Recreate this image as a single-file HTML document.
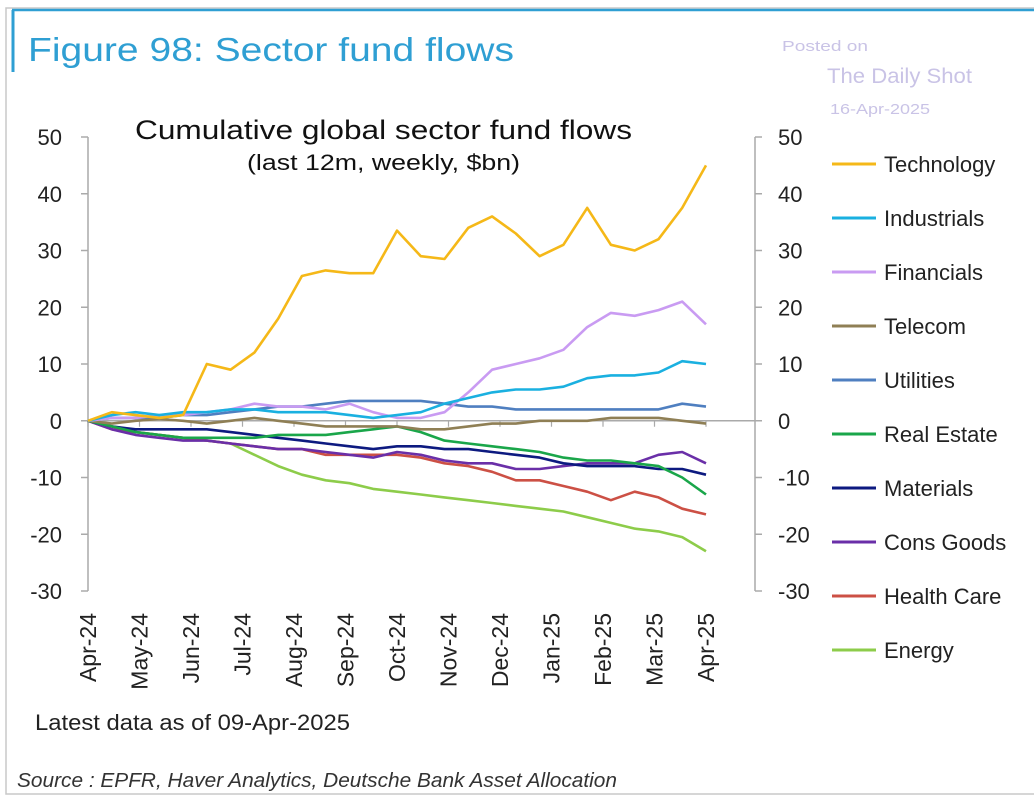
<!DOCTYPE html>
<html><head><meta charset="utf-8"><style>
body{margin:0;background:#fff;width:1034px;height:805px;overflow:hidden;font-family:"Liberation Sans",Arial,sans-serif}
svg{position:absolute;left:0;top:0}
</style></head><body>
<svg width="1034" height="805" xmlns="http://www.w3.org/2000/svg">
<rect x="6" y="8" width="1040" height="786" fill="#fff" stroke="#c8c8c8" stroke-width="1.5"/>
<line x1="12" y1="10" x2="1034" y2="10" stroke="#2f9fd3" stroke-width="2.5"/>
<line x1="13" y1="10" x2="13" y2="72" stroke="#2f9fd3" stroke-width="3"/>
<text x="28" y="61" font-size="33" fill="#2f9fd3" textLength="486" lengthAdjust="spacingAndGlyphs">Figure 98: Sector fund flows</text>
<text x="782" y="51" font-size="15" fill="#c9c3e6" textLength="86" lengthAdjust="spacingAndGlyphs">Posted on</text>
<text x="827" y="83" font-size="21" fill="#c9c3e6" textLength="145" lengthAdjust="spacingAndGlyphs">The Daily Shot</text>
<text x="830" y="114" font-size="15" fill="#c9c3e6" textLength="100" lengthAdjust="spacingAndGlyphs">16-Apr-2025</text>
<text x="135" y="139" font-size="27" fill="#111" textLength="497" lengthAdjust="spacingAndGlyphs">Cumulative global sector fund flows</text>
<text x="247" y="170" font-size="22" fill="#111" textLength="273" lengthAdjust="spacingAndGlyphs">(last 12m, weekly, $bn)</text>
<g id="axes"></g>
<g id="series"></g>
<g id="legend"></g>
<text x="35" y="730" font-size="22" fill="#222" textLength="315" lengthAdjust="spacingAndGlyphs">Latest data as of 09-Apr-2025</text>
<text x="17" y="787" font-size="20" fill="#333" font-style="italic" textLength="600" lengthAdjust="spacingAndGlyphs">Source : EPFR, Haver Analytics, Deutsche Bank Asset Allocation</text>
</svg>
<script>
const months=["Apr-24","May-24","Jun-24","Jul-24","Aug-24","Sep-24","Oct-24","Nov-24","Dec-24","Jan-25","Feb-25","Mar-25","Apr-25"];
const yTicks=[50,40,30,20,10,0,-10,-20,-30];
const seriesNames=["Technology","Industrials","Financials","Telecom","Utilities","Real Estate","Materials","Cons Goods","Health Care","Energy"];
const seriesColors=["#f5b818","#1ab0e0","#c99bf2","#8f7f55","#4f7fc0","#1aa64a","#0d1a80","#6a2fa8","#cc5045","#8dcc4a"];
const technology=[0,1.5,1,0.5,1,10,9,12,18,25.5,26.5,26,26,33.5,29,28.5,34,36,33,29,31,37.5,31,30,32,37.5,45];
const industrials=[0,1,1.5,1,1.5,1.5,2,2,1.5,1.5,1.5,1,0.5,1,1.5,3,4,5,5.5,5.5,6,7.5,8,8,8.5,10.5,10];
const financials=[0,0.5,0.5,1,1,1.5,2,3,2.5,2.5,2,3,1.5,0.5,0.5,1.5,5,9,10,11,12.5,16.5,19,18.5,19.5,21,17];
const telecom=[0,-0.5,0,0.3,0,-0.5,0,0.5,0,-0.5,-1,-1,-1,-1,-1.5,-1.5,-1,-0.5,-0.5,0,0,0,0.5,0.5,0.5,0,-0.5];
const utilities=[0,0.5,0.5,0.5,1,1,1.5,2,2.5,2.5,3,3.5,3.5,3.5,3.5,3,2.5,2.5,2,2,2,2,2,2,2,3,2.5];
const realEstate=[0,-1,-2,-2.5,-3,-3,-3,-3,-2.5,-2.5,-2.5,-2,-1.5,-1,-2,-3.5,-4,-4.5,-5,-5.5,-6.5,-7,-7,-7.5,-8,-10,-13];
const materials=[0,-1,-1.5,-1.5,-1.5,-1.5,-2,-2.5,-3,-3.5,-4,-4.5,-5,-4.5,-4.5,-5,-5,-5.5,-6,-6.5,-7.5,-8,-8,-8,-8.5,-8.5,-9.5];
const consGoods=[0,-1.5,-2.5,-3,-3.5,-3.5,-4,-4.5,-5,-5,-5.5,-6,-6.5,-5.5,-6,-7,-7.5,-7.5,-8.5,-8.5,-8,-7.5,-7.5,-7.5,-6,-5.5,-7.5];
const healthCare=[0,-1.5,-2,-2.5,-3,-3.5,-4,-4.5,-5,-5,-6,-6,-6,-6,-6.5,-7.5,-8,-9,-10.5,-10.5,-11.5,-12.5,-14,-12.5,-13.5,-15.5,-16.5];
const energy=[0,-1,-2,-2.5,-3,-3.5,-4,-6,-8,-9.5,-10.5,-11,-12,-12.5,-13,-13.5,-14,-14.5,-15,-15.5,-16,-17,-18,-19,-19.5,-20.5,-23];
const allSeries=[technology,industrials,financials,telecom,utilities,realEstate,materials,consGoods,healthCare,energy];

const NS="http://www.w3.org/2000/svg";
const X0=88,X1=706,YMAX=50,YMIN=-30,Y0=137,Y1=591;
function yScale(v){return Y0+(YMAX-v)/(YMAX-YMIN)*(Y1-Y0);}
function xMonth(i){return X0+i*(X1-X0)/(months.length-1);}
function xPoint(i,n){return X0+i*(X1-X0)/(n-1);}
function mk(tag,attrs,parent){const e=document.createElementNS(NS,tag);for(const k in attrs)e.setAttribute(k,attrs[k]);parent.appendChild(e);return e;}
const axes=document.getElementById('axes');
let a=mk('line',{x1:88,y1:yScale(50),x2:88,y2:yScale(-30),stroke:'#aaa','stroke-width':1.5},axes);


a=mk('line',{x1:755,y1:yScale(50),x2:755,y2:yScale(-30),stroke:'#aaa','stroke-width':1.5},axes);


a=mk('line',{x1:88,y1:yScale(0),x2:762,y2:yScale(0),stroke:'#aaa','stroke-width':1.5},axes);


yTicks.forEach(v=>{
  const y=yScale(v);
  mk('line',{x1:81,y1:y,x2:88,y2:y,stroke:'#aaa','stroke-width':1.5},axes);
  mk('line',{x1:755,y1:y,x2:762,y2:y,stroke:'#aaa','stroke-width':1.5},axes);
  let t=mk('text',{x:62,y:y+8,'font-size':22,fill:'#222','text-anchor':'end'},axes);t.textContent=v;
  
  
  t=mk('text',{x:778,y:y+8,'font-size':22,fill:'#222'},axes);t.textContent=v;
  
  
});
months.forEach((m,i)=>{
  const x=xMonth(i);
  mk('line',{x1:x,y1:yScale(0),x2:x,y2:yScale(0)+6,stroke:'#aaa','stroke-width':1.2},axes);
  const t=mk('text',{x:0,y:0,'font-size':23,fill:'#222','text-anchor':'end',transform:`translate(${x+8},613) rotate(-90)`},axes);
  t.textContent=m;
  
  
});
const sg=document.getElementById('series');
for(let s=allSeries.length-1;s>=0;s--){
  const d=allSeries[s];
  const pts=d.map((v,i)=>xPoint(i,d.length).toFixed(1)+','+yScale(v).toFixed(1)).join(' ');
  const p=mk('polyline',{points:pts,fill:'none',stroke:seriesColors[s],'stroke-width':2.6,'stroke-linejoin':'round'},sg);
  
  
}
const lg=document.getElementById('legend');
seriesNames.forEach((n,i)=>{
  const y=164+i*54;
  const l=mk('line',{x1:832,y1:y,x2:876,y2:y,stroke:seriesColors[i],'stroke-width':3},lg);
  
  
  const t=mk('text',{x:884,y:y+8,'font-size':22,fill:'#222'},lg);
  t.textContent=n;
  
  
});
</script>
</body></html>
